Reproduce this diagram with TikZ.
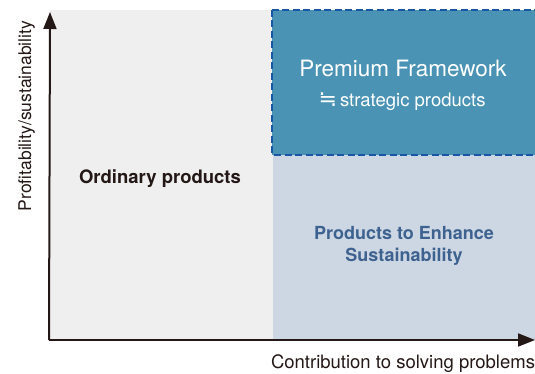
\documentclass[tikz,border=0pt]{standalone}
\usepackage{fontspec}
\setmainfont{TeX Gyre Heros}
\newfontfamily\symfnt{DejaVu Sans}
\usetikzlibrary{arrows.meta}
\definecolor{greybg}{HTML}{EFEFEF}
\definecolor{premfill}{HTML}{4A93B5}
\definecolor{lightblue}{HTML}{CDD7E3}
\definecolor{dashblue}{HTML}{1A56A6}
\definecolor{enhtext}{HTML}{3E6290}
\definecolor{axiscol}{HTML}{231815}
\tikzset{
  axisline/.style={draw=axiscol, line width=2pt, -{Triangle[length=17pt,width=13pt]}},
  lbl/.style={inner sep=0pt, anchor=base},
}
\begin{document}
\begin{tikzpicture}[x=1pt,y=-1pt]
\useasboundingbox (0,0) rectangle (535,374);
\clip (0,0) rectangle (535,374);
% regions
\fill[greybg] (50,10) rectangle (273,340);
\fill[lightblue] (273,155) rectangle (540,340);
\filldraw[fill=premfill, draw=dashblue, line width=1.6pt, dash pattern=on 7pt off 3.5pt] (272,10) rectangle (545,155);
% texts
\node[lbl, text=white, font=\fontsize{22.5}{26}\selectfont] (prem) at (403,77) {Premium Framework};
\node[lbl, text=white, font=\fontsize{18.5}{22}\selectfont] (strat) at (402,107) {{\symfnt\fontsize{22}{22}\selectfont ≒}\,strategic products};
\node[lbl, text=axiscol, font=\fontsize{18.5}{22}\selectfont\bfseries] (ord) at (160,183) {Ordinary products};
\node[lbl, text=enhtext, font=\fontsize{18}{22}\selectfont\bfseries] (enh1) at (404,239) {Products to Enhance};
\node[lbl, text=enhtext, font=\fontsize{18}{22}\selectfont\bfseries] (enh2) at (404,261) {Sustainability};
% axes
\coordinate (orig) at (49,340);
\coordinate (ytip) at (50,12);
\coordinate (xtip) at (535,340);
\draw[axisline] (orig) -- (ytip);
\draw[axisline] (orig) -- (xtip);
\node[lbl, text=axiscol, font=\fontsize{18.5}{22}\selectfont] (xlab) at (403,368) {Contribution to solving problems};
\node[lbl, text=axiscol, font=\fontsize{17.5}{22}\selectfont, rotate=90] (ylab) at (31,116) {Profitability/sustainability};
\end{tikzpicture}
\end{document}
